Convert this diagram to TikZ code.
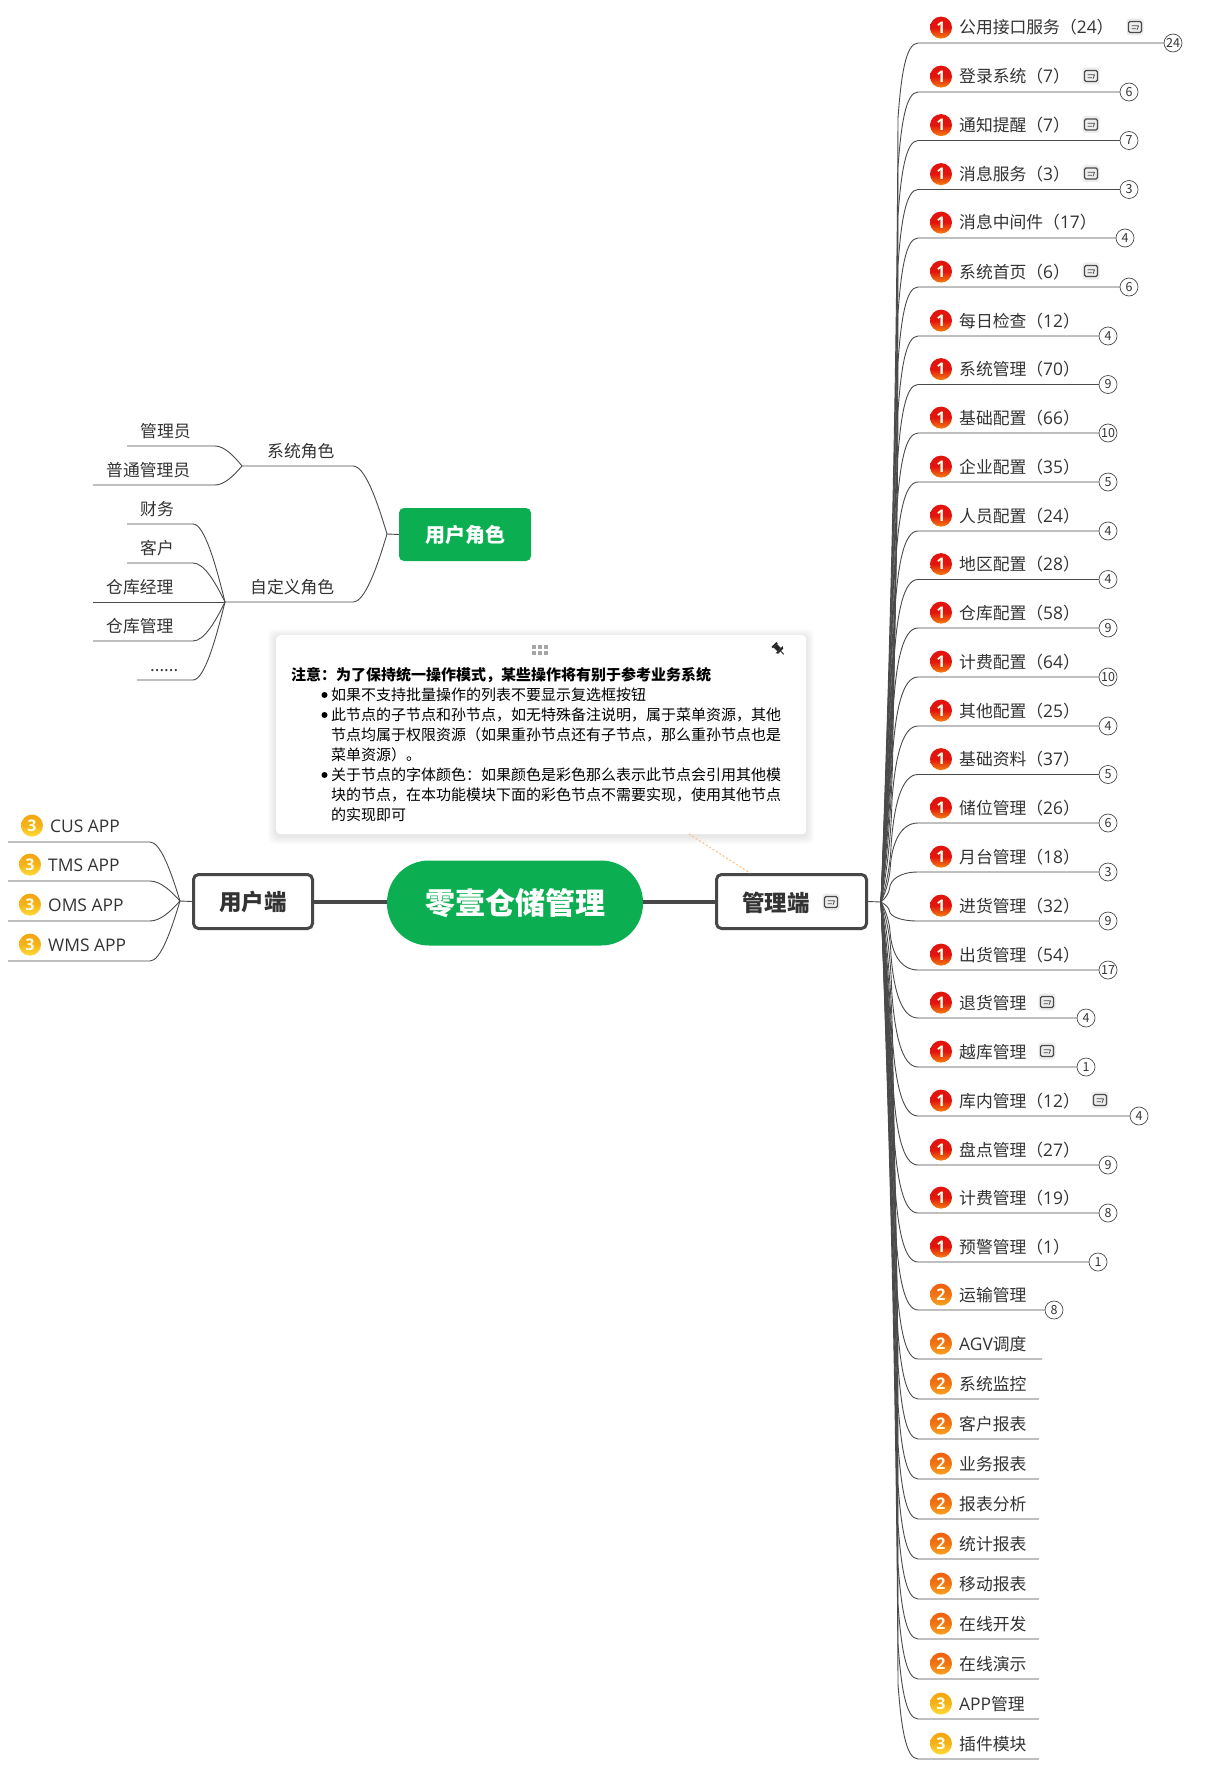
\documentclass[tikz,border=0pt]{standalone}
\usepackage{fontspec}
\setmainfont{Noto Sans CJK SC}
\newfontfamily\latf{Open Sans}
\usetikzlibrary{calc}
\definecolor{ink}{HTML}{333333}
\definecolor{wire}{HTML}{4A4A4A}
\definecolor{brand}{HTML}{0BAE50}
\definecolor{ra}{HTML}{E2150E}\definecolor{rb}{HTML}{F4800F}
\definecolor{oa}{HTML}{EE5F10}\definecolor{ob}{HTML}{F8A51F}
\definecolor{ya}{HTML}{F3A60F}\definecolor{yb}{HTML}{FFDB3A}
\newcommand{\sixdots}{......}
\newcommand{\lat}[1]{{\latf\fontsize{17.4}{20}\selectfont #1}}
\tikzset{
  wireline/.style={draw=wire,line width=0.9pt},
  % long fan used on the manager side: near straight, wide hook at its end
  rbranch/.style={to path={
    let \p1=(\tikztostart),\p2=(\tikztotarget),
        \n1={abs(\y2-\y1)},
        \n2={(\y2>\y1)?1:-1},
        \n3={min(0.55*\n1,75pt)},
        \n4={\x1+min(0.45*\n1,min(8pt+\n1/60,17pt))},
        \n5={\y2-\n2*\n3},
        \n6={\x1+(\n4-\x1)*0.62},
        \n7={\y1+(\n5-\y1)*0.35},
        \n8={\n5-\n2*0.3*abs(\n5-\y1)},
        \n9={\n4-(\n4-\x1)*0.06}
    in .. controls (\n6,\n7) and (\n9,\n8) .. (\n4,\n5)
       .. controls ({\n4+0.04*\n3},{\y2-\n2*\n3*0.45}) and ({\n4+(\x2-\n4)*0.38},\y2) .. (\tikztotarget)}},
  % short fan used by the other branches
  fan/.style={to path={
    let \p1=(\tikztostart),\p2=(\tikztotarget) in
    .. controls ($(\p1)!0.3!(\x2,\y1)+(0,{(\y2-\y1)*0.5})$) and ($(\p1)!0.65!(\x2,\y1)+(0,{\y2-\y1})$) .. (\tikztotarget)}},
  lbl/.style={anchor=west,inner sep=0pt,yshift=-0.6pt,text=ink,font=\fontsize{16.8}{20}\selectfont,text height=14.8pt,text depth=2pt},
  notetxt/.style={anchor=west,inner sep=0pt,text=black,font=\fontsize{15}{18}\selectfont,text height=13.2pt,text depth=1.8pt},
  badgebase/.style={circle,minimum size=22pt,inner sep=0pt,yshift=-0.6pt,text=white!92!yellow,font=\latf\fontsize{16}{16}\bfseries\selectfont,shading angle=135},
  badge1/.style={badgebase,top color=ra,bottom color=rb,middle color=ra},
  badge2/.style={badgebase,top color=oa,bottom color=ob,middle color=oa!70!ob},
  badge3/.style={badgebase,top color=ya,bottom color=yb,middle color=ya!75!yb},
  countc/.style={circle,draw=wire,line width=0.7pt,fill=white,minimum size=18pt,inner sep=0pt,text=ink,font=\fontsize{12.5}{13}\selectfont},
  mainbox/.style={draw=ink!90,line width=3pt,rounded corners=5pt,fill=white,text=ink,inner sep=0pt,font=\fontsize{22.5}{24}\bfseries\selectfont},
  trunk/.style={draw=ink!90,line width=4pt},
  pics/noteic/.style={code={
    \fill[black!7,rounded corners=3pt] (-8.5,-8.5) rectangle (8.5,8.5);
    \draw[wire,line width=1.1pt,rounded corners=1.5pt] (-6.5,-5.5) rectangle (6.5,5.5);
    \draw[wire,line width=0.8pt] (-3.5,-1.2) -- (3.5,-1.2) (-3.5,1.8) -- (0.8,1.8) (3.5,-1.2) -- (2,2.8);
  }}
}
\begin{document}
\begin{tikzpicture}[x=1pt,y=-1pt]
\useasboundingbox (0,0) rectangle (1210,1771);
\fill[white] (0,0) rectangle (1210,1771);

% ---------- central nodes
\node[fill=brand,rounded corners=42pt,minimum width=256pt,minimum height=85pt,inner sep=0pt,text=white,font=\fontsize{30}{32}\bfseries\selectfont] (center) at (515,903) {零壹仓储管理};
\node[mainbox,minimum width=119pt,minimum height=54pt] (user) at (253,901.5) {用户端};
\node[mainbox,minimum width=150pt,minimum height=54pt] (mgr) at (791.5,901.5) {};
\node[anchor=center,inner sep=0pt,text=ink,font=\fontsize{22.5}{24}\bfseries\selectfont] (mgrt) at (776,903) {管理端};
\pic at (831,902) {noteic};
\draw[trunk] (user.east) -- (center.west |- user.east);
\draw[trunk] (center.east |- mgr.west) -- (mgr.west);

% ---------- manager branches
\coordinate (J) at (881,902);
\draw[wireline] (mgr.east) -- (J);
\foreach \ly/\txt/\bn/\ix/\cn/\cx [count=\i] in {
 43/公用接口服务（\lat{24}）/1/1135/24/1173,
 92/登录系统（\lat{7}）/1/1091/6/1129,
 140.5/通知提醒（\lat{7}）/1/1091/7/1129,
 189.5/消息服务（\lat{3}）/1/1091/3/1129,
 238/消息中间件（\lat{17}）/1/0/4/1125,
 287/系统首页（\lat{6}）/1/1091/6/1129,
 336/每日检查（\lat{12}）/1/0/4/1108,
 384.5/系统管理（\lat{70}）/1/0/9/1108,
 433/基础配置（\lat{66}）/1/0/10/1108,
 482/企业配置（\lat{35}）/1/0/5/1108,
 531/人员配置（\lat{24}）/1/0/4/1108,
 579.5/地区配置（\lat{28}）/1/0/4/1108,
 628/仓库配置（\lat{58}）/1/0/9/1108,
 677/计费配置（\lat{64}）/1/0/10/1108,
 726/其他配置（\lat{25}）/1/0/4/1108,
 774.5/基础资料（\lat{37}）/1/0/5/1108,
 823/储位管理（\lat{26}）/1/0/6/1108,
 872/月台管理（\lat{18}）/1/0/3/1108,
 921/进货管理（\lat{32}）/1/0/9/1108,
 970/出货管理（\lat{54}）/1/0/17/1108,
 1018/退货管理/1/1047/4/1086,
 1067/越库管理/1/1047/1/1086,
 1116/库内管理（\lat{12}）/1/1100/4/1139,
 1165/盘点管理（\lat{27}）/1/0/9/1108,
 1213/计费管理（\lat{19}）/1/0/8/1108,
 1262/预警管理（\lat{1}）/1/0/1/1098,
 1310/运输管理/2/0/8/1054,
 1359/\lat{AGV}调度/2/0/0/1042,
 1399/系统监控/2/0/0/1039,
 1439/客户报表/2/0/0/1039,
 1479/业务报表/2/0/0/1039,
 1519/报表分析/2/0/0/1039,
 1559/统计报表/2/0/0/1039,
 1599/移动报表/2/0/0/1039,
 1639/在线开发/2/0/0/1039,
 1679/在线演示/2/0/0/1039,
 1719/\lat{APP}管理/3/0/0/1039,
 1759/插件模块/3/0/0/1039}{
  \coordinate (e\i) at (918,\ly);
  \coordinate (f\i) at (\cx,\ly);
  \draw[wireline] (J) to[rbranch] (e\i) -- (f\i);
  \node[badge\bn] (b\i) at (941,\ly-16) {\bn};
  \node[lbl] (t\i) at (959,\ly-16) {\txt};
  \ifnum\ix>0 \pic at (\ix,\ly-16) {noteic}; \fi
  \ifnum\cn>0 \node[countc] (c\i) at (f\i) {\cn}; \fi
}

% ---------- user branches
\coordinate (UJ) at (180,901);
\draw[wireline] (user.west) -- (UJ);
\foreach \ly/\txt/\tx/\bx [count=\i] in {842/\lat{CUS APP}/50/32,881/\lat{TMS APP}/48/30,921/\lat{OMS APP}/48/30,961/\lat{WMS APP}/48/30}{
  \coordinate (ue\i) at (150,\ly);
  \coordinate (uf\i) at (8,\ly);
  \draw[wireline] (UJ) to[fan] (ue\i) -- (uf\i);
  \node[badge3] (ub\i) at (\bx,\ly-17) {3};
  \node[lbl] (ut\i) at (\tx,\ly-17) {\txt};
}

% ---------- roles
\node[fill=brand,rounded corners=5pt,minimum width=132pt,minimum height=53pt,inner sep=0pt,text=white,font=\fontsize{20}{22}\bfseries\selectfont] (role) at (465,534.5) {用户角色};
\coordinate (RJ) at (387,534);
\draw[wireline] (role.west) -- (RJ);
\coordinate (s0) at (353,466); \coordinate (s1) at (242,466);
\coordinate (d0) at (353,602); \coordinate (d1) at (225,602);
\draw[wireline] (RJ) to[fan] (s0) -- (s1);
\draw[wireline] (RJ) to[fan] (d0) -- (d1);
\node[lbl] (st) at (267,450) {系统角色};
\node[lbl] (dt) at (250,586) {自定义角色};
\foreach \ly/\txt/\tx/\lx [count=\i] in {446/管理员/140/127,485/普通管理员/106/93}{
  \coordinate (se\i) at (215,\ly); \coordinate (sf\i) at (\lx,\ly);
  \draw[wireline] (s1) to[fan] (se\i) -- (sf\i);
  \node[lbl] (sn\i) at (\tx,\ly-16) {\txt};
}
\foreach \ly/\txt/\tx/\lx [count=\i] in {524/财务/140/127,563/客户/140/127,641/仓库管理/106/93,680/\sixdots/150/137}{
  \coordinate (de\i) at (193,\ly); \coordinate (df\i) at (\lx,\ly);
  \draw[wireline] (d1) to[fan] (de\i) -- (df\i);
  \node[lbl] (dn\i) at (\tx,\ly-16) {\txt};
}
\coordinate (dm) at (93,602);
\draw[wireline] (d1) -- (dm);
\node[lbl] (dn5) at (106,586) {仓库经理};

% ---------- note panel
\foreach \r in {1,2,3,4,5,6,7,8}{
  \fill[black,opacity=0.012,rounded corners=6pt] (276-\r,635-\r+2) rectangle (806+\r,834+\r+2);
}
\node[fill=white,rounded corners=4pt,anchor=north west,minimum width=530pt,minimum height=199pt,inner sep=0pt] (note) at (276,635) {};
\coordinate (na) at (689,834);
\coordinate (nb) at (750,873);
\draw[draw=orange!45,line width=1.2pt,dash pattern=on 2pt off 2pt] (na) -- (nb);
\foreach \gx in {534,540,546}{\foreach \gy in {646.5,652.5}{\fill[black!35] (\gx-2,\gy-2) rectangle (\gx+2,\gy+2);}}
\begin{scope}[shift={(778.5,649)},rotate=45,black!85]
  \fill (-3.5,-6.5) rectangle (3.5,-4.5);
  \fill (-2.4,-4.5) rectangle (2.4,1);
  \fill (-5,1) -- (5,1) -- (3.5,3) -- (-3.5,3) -- cycle;
  \draw[line width=1pt] (0,3) -- (0,7.5);
\end{scope}
\node[notetxt,font=\fontsize{15}{18}\bfseries\selectfont] (nt0) at (291,674.5) {注意：为了保持统一操作模式，某些操作将有别于参考业务系统};
\foreach \ly/\txt [count=\i] in {
 695/如果不支持批量操作的列表不要显示复选框按钮,
 715/此节点的子节点和孙节点，如无特殊备注说明，属于菜单资源，其他,
 735/节点均属于权限资源（如果重孙节点还有子节点，那么重孙节点也是,
 755/菜单资源）。,
 775/关于节点的字体颜色：如果颜色是彩色那么表示此节点会引用其他模,
 795/块的节点，在本功能模块下面的彩色节点不需要实现，使用其他节点,
 815/的实现即可}{
  \node[notetxt] (nt\i) at (331,\ly) {\txt};
}
\foreach \ly in {695,715,775}{\fill[black] (324.5,\ly) circle (3pt);}
\end{tikzpicture}
\end{document}
